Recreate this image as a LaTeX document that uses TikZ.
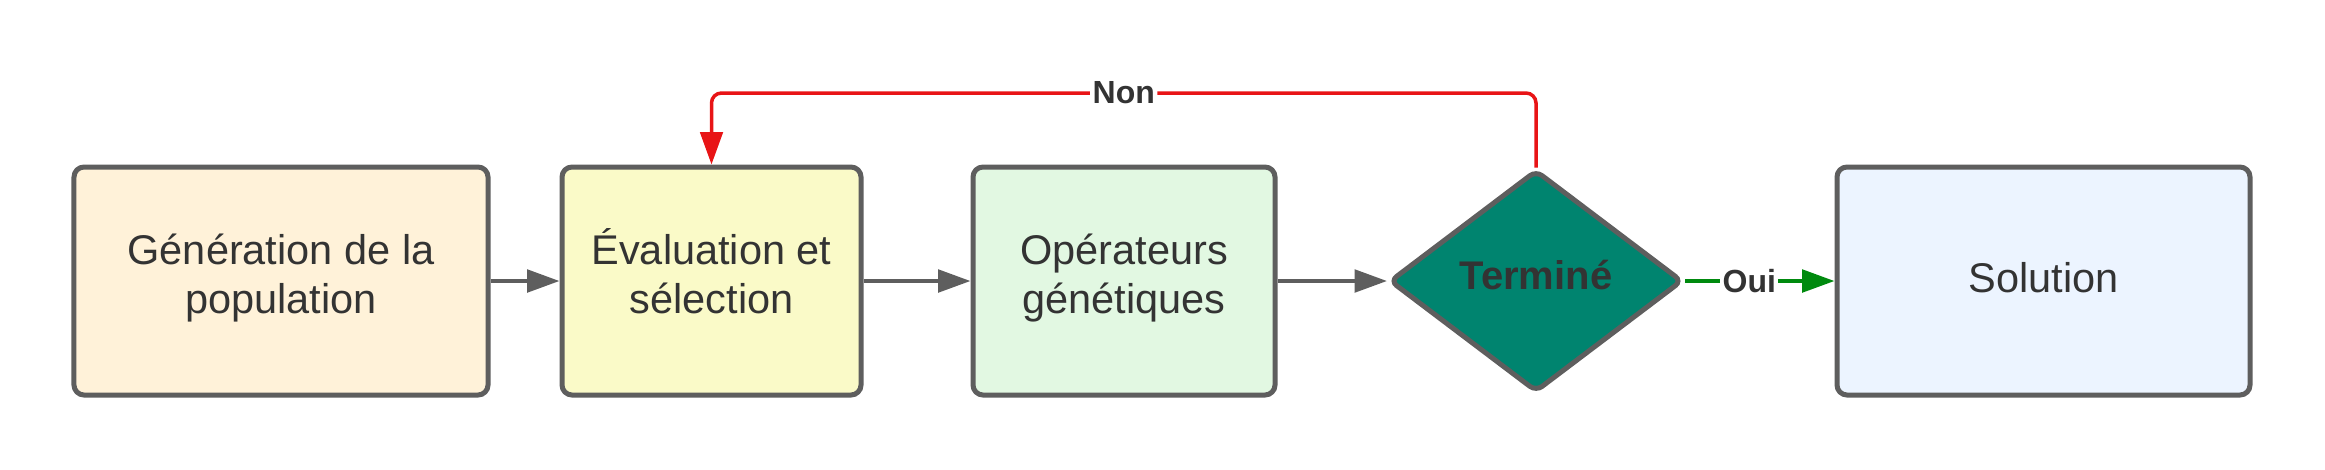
\documentclass[tikz,border=0pt]{standalone}
\usepackage{fontspec}
\setmainfont{Liberation Sans}
\usetikzlibrary{shapes.geometric,arrows.meta}
\definecolor{bordergray}{HTML}{5E5E5E}
\definecolor{txt}{HTML}{333333}
\definecolor{fillA}{HTML}{FFF2D9}
\definecolor{fillB}{HTML}{FAFAC8}
\definecolor{fillC}{HTML}{E2F8E2}
\definecolor{fillD}{HTML}{00846F}
\definecolor{fillE}{HTML}{ECF4FF}
\definecolor{redline}{HTML}{E81416}
\definecolor{greenline}{HTML}{008A0E}
\tikzset{
  box/.style={draw=bordergray, line width=2pt, rounded corners=4pt, minimum height=91.2pt,
    inner sep=0pt},
  boxtext/.style={align=center, text=txt, inner sep=0pt, font=\fontsize{16.6}{19.6}\selectfont},
  dec/.style={diamond, draw=bordergray, line width=2pt, rounded corners=3pt, fill=fillD,
    minimum width=117.2pt, minimum height=88.8pt, inner sep=0pt},
  dectext/.style={text=txt, inner sep=0pt, font=\fontsize{16}{19}\selectfont\bfseries},
  grayarrow/.style={draw=bordergray, line width=1.6pt, -{Triangle[length=13pt,width=9pt]}},
  redarrow/.style={draw=redline, line width=1.4pt, rounded corners=4pt, -{Triangle[length=13pt,width=9pt]}},
  greenarrow/.style={draw=greenline, line width=1.6pt, -{Triangle[length=13pt,width=9pt]}},
  lbl/.style={fill=white, inner sep=1pt, text=txt, font=\fontsize{12.8}{15}\selectfont\bfseries},
}
\begin{document}
\begin{tikzpicture}[x=0.4pt, y=-0.4pt]
\useasboundingbox (0,0) rectangle (2325,469);
\node[box, fill=fillA, minimum width=165.6pt,
  label={[boxtext, yshift=1.2pt]center:{Génération de la\\population}}] (b1) at (281,281) {};
\node[box, fill=fillB, minimum width=119.6pt,
  label={[boxtext, yshift=4pt]center:{Évaluation et\\sélection}}] (b2) at (711.5,281) {};
\node[box, fill=fillC, minimum width=120.8pt,
  label={[boxtext, yshift=1.2pt]center:{Opérateurs\\génétiques}}] (b3) at (1124,281) {};
\node[dec, label={[dectext, yshift=2.4pt]center:{Terminé}}] (d) at (1536,281) {};
\node[box, fill=fillE, minimum width=165.2pt,
  label={[boxtext, yshift=1.2pt]center:{Solution}}] (b5) at (2043.5,281) {};
\coordinate (ytop) at (0,93);
\draw[grayarrow] (b1.east) -- (b2.west);
\draw[grayarrow] (b2.east) -- (b3.west);
\draw[grayarrow] (b3.east) -- (d.west);
\draw[greenarrow] (d.east) -- node[lbl, pos=0.43] {Oui} (b5.west);
\draw[redarrow] (d.north) -- (d.north |- ytop) -- node[lbl] {Non} (b2.north |- ytop) -- (b2.north);
\end{tikzpicture}
\end{document}
